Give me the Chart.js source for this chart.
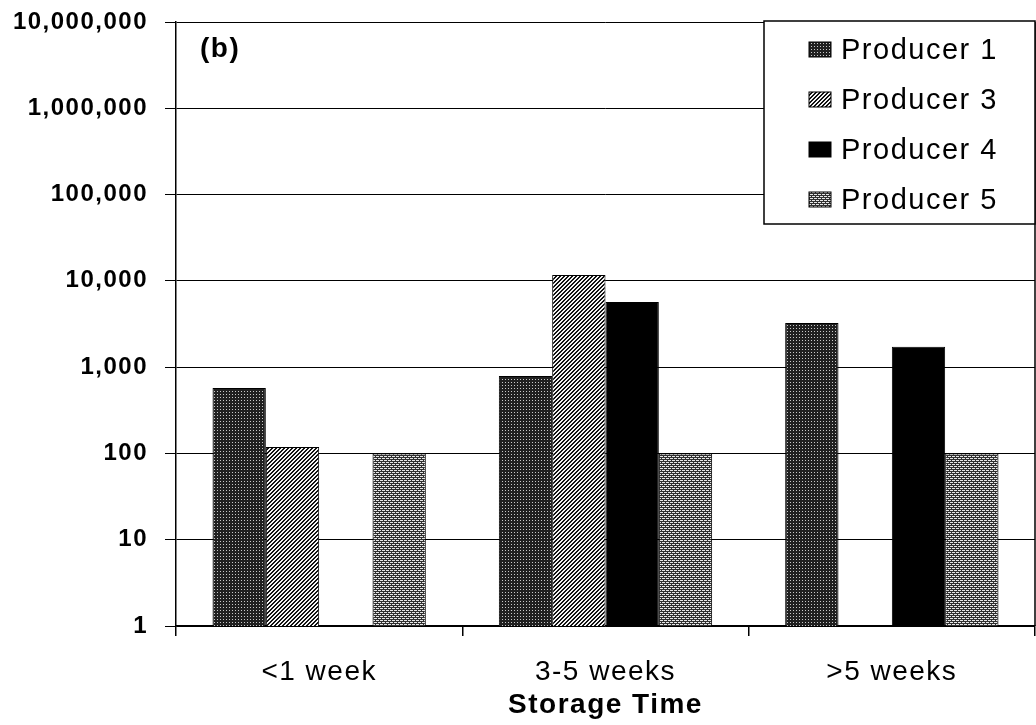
<!DOCTYPE html>
<html>
<head>
<meta charset="utf-8">
<script src="https://cdn.jsdelivr.net/npm/chart.js@4.4.0/dist/chart.umd.min.js"></script>
<style>
  body { margin: 0; background: #fff; }
  canvas { display: block; }
</style>
</head>
<body>
<canvas id="myChart" width="1036" height="725"></canvas>
<script>
// data
const categories = ['<1 week', '3-5 weeks', '>5 weeks'];
const seriesNames = ['Producer 1', 'Producer 3', 'Producer 4', 'Producer 5'];
const producer1 = [575, 790, 3250];
const producer3 = [119, 11700, null];
const producer4 = [null, 5700, 1720];
const producer5 = [100, 100, 100];
const yTicks = [1, 10, 100, 1000, 10000, 100000, 1000000, 10000000];
const panelLabel = '(b)';

const FONT = '"Liberation Sans", Arial, sans-serif';
const SPACING = '1.5px';
Chart.defaults.font.family = FONT;
Chart.defaults.color = '#000';

// small tiles to imitate the grey-scale fills of the print
function makePattern(w, h, draw) {
    const c = document.createElement('canvas');
    c.width = w;
    c.height = h;
    const g = c.getContext('2d');
    draw(g);
    return document.getElementById('myChart').getContext('2d').createPattern(c, 'repeat');
}

const dotted = makePattern(3, 3, (g) => {
    g.fillStyle = '#202020';
    g.fillRect(0, 0, 3, 3);
    g.fillStyle = '#c8c8c8';
    g.fillRect(1, 1, 1, 1);
});

const hatched = makePattern(4, 4, (g) => {
    g.fillStyle = '#f4f4f4';
    g.fillRect(0, 0, 4, 4);
    g.fillStyle = '#111';
    for (let i = 0; i < 4; i++) {
        g.fillRect(i, 3 - i, 1, 1);
        g.fillRect((i + 1) % 4, 3 - i, 1, 1);
    }
});

const bricks = makePattern(4, 4, (g) => {
    g.fillStyle = '#303030';
    g.fillRect(0, 0, 4, 4);
    g.fillStyle = '#e6e6e6';
    g.fillRect(0, 0, 3, 1);
    g.fillRect(2, 2, 2, 1);
    g.fillRect(0, 2, 1, 1);
});

const fills = [dotted, hatched, '#000', bricks];
const values = [producer1, producer3, producer4, producer5];

const datasets = seriesNames.map((name, i) => ({
    label: name,
    data: values[i],
    backgroundColor: fills[i],
    borderColor: '#000',
    borderWidth: 1,
    categoryPercentage: 0.745,
    barPercentage: 1.0
}));

const spacing = {
    id: 'spacing',
    beforeLayout(chart) { chart.ctx.letterSpacing = SPACING; },
    beforeDraw(chart) { chart.ctx.letterSpacing = SPACING; }
};

// legend box inside the plot plus the panel letter and right frame
const extras = {
    id: 'extras',
    afterDraw(chart) {
        const ctx = chart.ctx;
        const area = chart.chartArea;
        ctx.save();
        ctx.letterSpacing = SPACING;

        ctx.strokeStyle = '#000';
        ctx.lineWidth = 1.5;
        ctx.beginPath();
        ctx.moveTo(area.right, area.top);
        ctx.lineTo(area.right, area.bottom);
        ctx.stroke();

        ctx.font = 'bold 28px ' + FONT;
        ctx.textBaseline = 'middle';
        ctx.textAlign = 'left';
        ctx.fillStyle = '#000';
        ctx.fillText(panelLabel, 200, 49);

        const boxX = 764, boxY = area.top - 1;
        const boxW = area.right - boxX, boxH = 203;
        ctx.fillStyle = '#fff';
        ctx.fillRect(boxX, boxY, boxW, boxH);
        ctx.strokeRect(boxX, boxY, boxW, boxH);

        ctx.font = '29px ' + FONT;
        chart.data.datasets.forEach((ds, i) => {
            const cy = 50 + i * 50;
            ctx.fillStyle = ds.backgroundColor;
            ctx.fillRect(809, cy - 8, 22, 15);
            ctx.lineWidth = 1;
            ctx.strokeRect(809, cy - 8, 22, 15);
            ctx.fillStyle = '#000';
            ctx.fillText(ds.label, 841, cy + 1);
        });
        ctx.restore();
    }
};

const canvas = document.getElementById('myChart');
const chart = new Chart(canvas.getContext('2d'), {
    type: 'bar',
    data: { labels: categories, datasets: datasets },
    plugins: [spacing, extras],
    options: {
        responsive: false,
        animation: false,
        layout: { padding: { left: 0, right: 1, top: 22, bottom: 0 } },
        plugins: {
            legend: { display: false },
            tooltip: { enabled: false }
        },
        scales: {
            x: {
                grid: {
                    display: true,
                    drawOnChartArea: false,
                    drawTicks: true,
                    tickLength: 10,
                    color: '#000',
                    lineWidth: 1.5
                },
                border: { color: '#000', width: 1.5 },
                ticks: { color: '#000', font: { size: 28 }, padding: 19, maxRotation: 0, autoSkip: false },
                title: {
                    display: true,
                    text: 'Storage Time',
                    color: '#000',
                    font: { size: 28, weight: 'bold' },
                    padding: { top: 0, bottom: 3 }
                },
                afterFit: (s) => { s.height = 99; s.paddingLeft = 0; s.paddingRight = 0; }
            },
            y: {
                type: 'logarithmic',
                min: 1,
                max: 10000000,
                afterBuildTicks: (s) => { s.ticks = yTicks.map((v) => ({ value: v })); },
                grid: { color: '#000', lineWidth: 1, tickLength: 11 },
                border: { color: '#000', width: 1.5 },
                ticks: {
                    color: '#000',
                    font: { size: 24, weight: 'bold' },
                    padding: 17,
                    callback: (v) => Number(v).toLocaleString('en-US')
                },
                afterFit: (s) => { s.width = 176; s.paddingTop = 0; s.paddingBottom = 0; }
            }
        }
    }
});
</script>
</body>
</html>
